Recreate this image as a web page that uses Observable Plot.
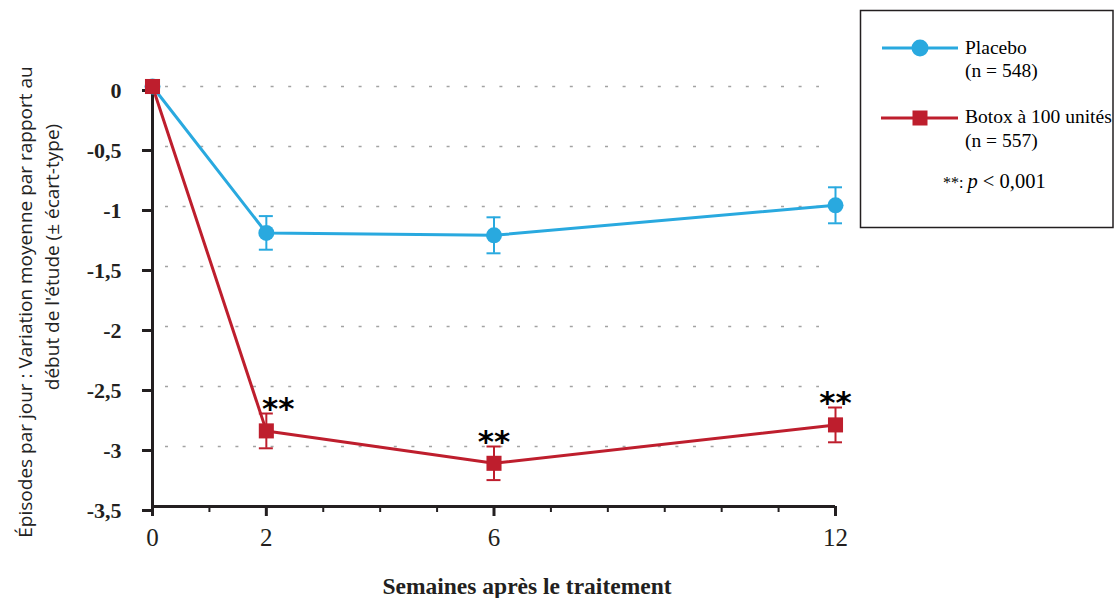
<!DOCTYPE html>
<html><head><meta charset="utf-8">
<script src="https://cdn.jsdelivr.net/npm/d3@7"></script>
<script src="https://cdn.jsdelivr.net/npm/@observablehq/plot@0.6"></script>
<style>
html,body{margin:0;padding:0;background:#fff;}
#chart{width:1115px;height:598px;overflow:hidden;}
</style></head><body><div id="chart"></div>
<script>
// ---- data ----
const weeks = [0, 2, 6, 12];
const placeboMean = [0, -1.22, -1.24, -0.99];
const placeboSD = [0, 0.14, 0.15, 0.15];
const botoxMean = [0, -2.87, -3.14, -2.82];
const botoxSD = [0, 0.145, 0.14, 0.145];
const botoxSignif = [false, true, true, true];
const seriesNames = ["Placebo", "Botox à 100 unités"];
const seriesN = ["(n = 548)", "(n = 557)"];
const yTicks = [0, -0.5, -1, -1.5, -2, -2.5, -3, -3.5];
const gridValues = [0, -0.5, -1, -1.5, -2, -2.5, -3];
const xMajorTicks = [0, 2, 6, 12];
const xMinorTicks = [1, 3, 4, 5, 7, 8, 9, 10, 11];
const xLabel = "Semaines après le traitement";
const yLabelLines = ["Épisodes par jour : Variation moyenne par rapport au", "début de l'étude (± écart-type)"];
const sigMark = "**";
const sigNote = ["**: ", "p", " < 0,001"];

// ---- style ----
const BLUE = "#29a9df";
const RED = "#be1e2d";
const INK = "#231f20";
const GRID = "#a3a3a3";
const SERIF = "'Liberation Serif', 'Times New Roman', serif";

const placebo = weeks.map((w, i) => ({week: w, mean: placeboMean[i], sd: placeboSD[i]}));
const botox = weeks.map((w, i) => ({week: w, mean: botoxMean[i], sd: botoxSD[i], sig: botoxSignif[i]}));
const fmt = d => String(d).replace(".", ",");

function errorMarks(rows, color) {
  const r = rows.filter(d => d.sd > 0);
  return [
    Plot.ruleX(r, {x: "week", y1: d => d.mean - d.sd, y2: d => d.mean + d.sd, stroke: color, strokeWidth: 2}),
    Plot.ruleY(r, {y: d => d.mean + d.sd, x1: "week", x2: "week", insetLeft: -7, insetRight: -7, stroke: color, strokeWidth: 2}),
    Plot.ruleY(r, {y: d => d.mean - d.sd, x1: "week", x2: "week", insetLeft: -7, insetRight: -7, stroke: color, strokeWidth: 2})
  ];
}

const sig = botox.filter(d => d.sig);
const plot = Plot.plot({
  width: 1115, height: 598,
  marginLeft: 152, marginRight: 280, marginTop: 86, marginBottom: 92,
  x: {domain: [0, 12]},
  y: {domain: [-3.5, 0]},
  marks: [
    Plot.ruleY(gridValues, {y: d => d, stroke: GRID, strokeWidth: 1.3, strokeDasharray: "3,14.6", insetLeft: 13, insetRight: 16}),
    Plot.axisY({ticks: yTicks, tickFormat: fmt, tickSize: 10, tickPadding: 21, strokeWidth: 3, stroke: INK, fill: INK,
      fontWeight: "bold", fontSize: 22, fontFamily: SERIF, dy: 4, label: null}),
    Plot.axisX({ticks: xMajorTicks, tickSize: 10, tickPadding: 12, strokeWidth: 3, stroke: INK, fill: INK,
      fontSize: 25, fontFamily: SERIF, label: null}),
    Plot.axisX({ticks: xMinorTicks, tickSize: 6, strokeWidth: 2, stroke: INK, tickFormat: () => "", label: null}),
    Plot.ruleX([0], {stroke: INK, strokeWidth: 3}),
    Plot.ruleY([-3.5], {stroke: INK, strokeWidth: 3}),
    Plot.line(placebo, {x: "week", y: "mean", stroke: BLUE, strokeWidth: 3}),
    Plot.line(botox, {x: "week", y: "mean", stroke: RED, strokeWidth: 3}),
    ...errorMarks(placebo, BLUE),
    ...errorMarks(botox, RED),
    Plot.dot(placebo, {x: "week", y: "mean", r: 8, fill: BLUE}),
    Plot.dot(botox, {x: "week", y: "mean", r: 8.5, symbol: "square", fill: RED}),
    Plot.text(sig.slice(0, 1), {x: "week", y: d => d.mean + d.sd, text: () => sigMark, dx: 12, dy: -4,
      fontSize: 31, fontWeight: "bold", fontFamily: "'DejaVu Sans', sans-serif", fill: "#000"}),
    Plot.text(sig.slice(1), {x: "week", y: d => d.mean + d.sd, text: () => sigMark, dy: -4,
      fontSize: 31, fontWeight: "bold", fontFamily: "'DejaVu Sans', sans-serif", fill: "#000"})
  ]
});
document.getElementById("chart").appendChild(plot);

// ---- titles and legend (layout) ----
const svg = d3.select(plot);
svg.append("text").attr("x", 527).attr("y", 594).attr("text-anchor", "middle")
  .attr("font-family", SERIF).attr("font-weight", "bold").attr("font-size", 23.5).attr("fill", INK).text(xLabel);
const yt = svg.append("g").attr("font-family", "'Open Sans', sans-serif").attr("font-size", 19).attr("fill", "#222").attr("text-anchor", "middle");
yt.append("text").attr("transform", "translate(32,302) rotate(-90)").text(yLabelLines[0]);
yt.append("text").attr("transform", "translate(59,257) rotate(-90)").text(yLabelLines[1]);

const lg = svg.append("g").attr("font-family", SERIF).attr("font-size", 19.5).attr("fill", "#000").attr("text-anchor", "start");
lg.append("rect").attr("x", 860.5).attr("y", 10.5).attr("width", 252.5).attr("height", 217)
  .attr("fill", "#fff").attr("stroke", INK).attr("stroke-width", 1.5);
lg.append("line").attr("x1", 882).attr("x2", 958).attr("y1", 48).attr("y2", 48).attr("stroke", BLUE).attr("stroke-width", 3);
lg.append("circle").attr("cx", 920).attr("cy", 48).attr("r", 8.5).attr("fill", BLUE);
lg.append("text").attr("x", 965).attr("y", 54).text(seriesNames[0]);
lg.append("text").attr("x", 965).attr("y", 77).text(seriesN[0]);
lg.append("line").attr("x1", 881).attr("x2", 958).attr("y1", 118).attr("y2", 118).attr("stroke", RED).attr("stroke-width", 3);
lg.append("rect").attr("x", 912.5).attr("y", 110.5).attr("width", 15).attr("height", 15).attr("fill", RED);
lg.append("text").attr("x", 965).attr("y", 123).text(seriesNames[1]);
lg.append("text").attr("x", 965).attr("y", 147).text(seriesN[1]);
const note = lg.append("text").attr("x", 943).attr("y", 188).attr("font-size", 20.5);
note.append("tspan").attr("font-size", 16).text(sigNote[0]);
note.append("tspan").attr("font-style", "italic").text(sigNote[1]);
note.append("tspan").text(sigNote[2]);
</script></body></html>
